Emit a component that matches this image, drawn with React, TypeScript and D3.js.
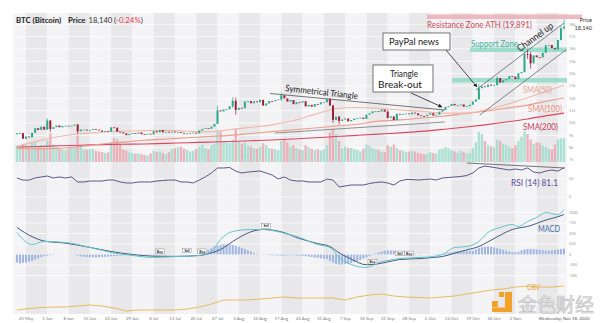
import React from "react";
import * as d3 from "d3";

// ---------- data ----------
const START = new Date(2020, 4, 22); // first candle
const AXIS_START = new Date(2020, 4, 25);
const AXIS_END = new Date(2020, 10, 18);

const prevClose = 9080;
const closes = [
  9170, 9180, 8720, 8900, 8840, 9200, 9580, 9430, 9700, 9460,
  10200, 9520, 9660, 9800, 9650, 9760, 9780, 9770, 9780, 9870,
  9320, 9470, 9470, 9390, 9430, 9520, 9460, 9390, 9290, 9340,
  9300, 9650, 9620, 9290, 9250, 9160, 9010, 9120, 9190, 9140,
  9230, 9090, 9060, 9130, 9070, 9340, 9250, 9430, 9240, 9290,
  9240, 9300, 9240, 9250, 9200, 9130, 9150, 9170, 9210, 9160,
  9390, 9520, 9580, 9540, 9700, 9930, 11030, 10940, 11100, 11110,
  11350, 11800, 11070, 11230, 11190, 11740, 11770, 11600, 11750, 11680,
  11880, 11410, 11580, 11780, 11770, 11860, 11910, 12250, 11990, 11740,
  11860, 11520, 11680, 11650, 11770, 11340, 11470, 11320, 11540, 11510,
  11680, 11680, 11970, 11410, 10250, 10510, 10170, 10280, 10370, 10130,
  10240, 10360, 10400, 10440, 10330, 10680, 10790, 10950, 10950, 10930,
  11090, 10920, 10420, 10540, 10240, 10740, 10690, 10730, 10770, 10710,
  10840, 10780, 10620, 10570, 10550, 10670, 10790, 10600, 10670, 10920,
  11060, 11300, 11380, 11550, 11430, 11430, 11500, 11320, 11360, 11480,
  11740, 11920, 12820, 12970, 12930, 13110, 13030, 13070, 13650, 13270,
  13460, 13560, 13800, 13760, 13550, 14030, 14130, 15580, 15570, 14830,
  15480, 15330, 15310, 15700, 16280, 16320, 16070, 15960, 16730, 17680,
  17800,
];

// notable wicks: [day index, high, low]
const wicks = [
  [10, 10380, 9460], [11, 10230, 9280], [20, 9940, 9110], [66, 11400, 9920], [71, 12090, 11220],
  [72, 12050, 10660], [87, 12470, 11800], [104, 11470, 10000], [106, 10560, 9900], [122, 11030, 10340],
  [152, 13160, 11900], [158, 13770, 13040], [167, 15740, 14100], [168, 15960, 15200], [169, 15760, 14400],
  [174, 16340, 15680], [179, 17850, 16690], [180, 18400, 17550],
];

const volumes = [
  24, 22, 26, 25, 23, 27, 28, 22, 24, 21,
  31, 41, 25, 22, 20, 18, 17, 19, 20, 21,
  38, 24, 18, 17, 18, 19, 16, 15, 14, 13,
  14, 28, 34, 32, 26, 18, 16, 14, 13, 12,
  12, 11, 10, 9, 12, 16, 14, 15, 13, 11,
  14, 18, 20, 21, 22, 19, 17, 15, 16, 19,
  22, 25, 20, 18, 24, 26, 45, 44, 30, 28,
  27, 32, 48, 30, 26, 28, 24, 22, 20, 19,
  22, 27, 24, 20, 19, 18, 17, 30, 33, 28,
  22, 24, 20, 18, 17, 24, 21, 19, 17, 18,
  16, 18, 24, 42, 47, 40, 30, 20, 22, 20,
  20, 18, 17, 15, 19, 25, 23, 20, 18, 17,
  15, 14, 24, 22, 25, 20, 17, 16, 14, 15,
  16, 15, 13, 12, 11, 12, 14, 13, 12, 18,
  19, 21, 20, 17, 15, 13, 16, 14, 12, 13,
  20, 28, 43, 40, 30, 24, 22, 21, 32, 30,
  26, 24, 22, 20, 24, 30, 36, 44, 40, 32,
  26, 28, 27, 24, 22, 20, 18, 25, 32, 34,
  34,
];

const macdHist = [
  -190, -210, -200, -190, -170, -150, -120, -90, -60, -40,
  -25, -15, -10, -5, -5, -5, 0, -5, -10, -15,
  -30, -45, -55, -60, -65, -70, -70, -65, -60, -55,
  -50, -45, -40, -35, -25, -20, -15, -10, -10, -5,
  -5, -10, -10, -15, -15, -20, -20, -15, -10, -10,
  -5, -5, -5, 0, 5, 5, 5, 0, 0, 0,
  10, 30, 60, 110, 150, 190, 210, 230, 240, 240,
  235, 225, 210, 190, 160, 130, 100, 70, 40, 15,
  5, -5, -10, -15, -20, -20, -25, -25, -25, -20,
  -20, -20, -25, -30, -35, -40, -50, -60, -70, -80,
  -90, -100, -110, -150, -190, -220, -240, -240, -230, -220,
  -200, -180, -160, -130, -100, -70, -40, -10, 20, 45,
  70, 90, 100, 100, 95, 85, 70, 55, 40, 25,
  15, 10, 5, 5, 0, 0, 5, 10, 10, 15,
  20, 30, 45, 60, 75, 80, 80, 85, 90, 90,
  95, 120, 150, 175, 185, 190, 185, 170, 150, 130,
  110, 90, 70, 60, 55, 70, 100, 120, 130, 135,
  130, 120, 110, 100, 95, 90, 100, 110, 120, 130,
  140,
];

// RSI, one reading every 2 days
const rsiStep = 2;
const rsi = [
  52.8, 47, 47, 52.8, 55.6, 58.3, 52.8, 55.6, 52.8, 55.6,
  41.7, 41.7, 44.4, 44.4, 44.4, 47.2, 47.2, 41.7, 38.9, 38.9,
  41.7, 41.7, 41.7, 44.4, 45.8, 47.2, 47.2, 41.7, 41.7, 38.9,
  47.2, 55.6, 66.7, 80.6, 80.6, 82, 72, 66.7, 69.4, 70.8,
  72.2, 66.7, 61, 50, 55.6, 47.2, 44.4, 44.4, 41.7, 41.7,
  41.7, 50, 47.2, 27.8, 30.6, 33.3, 33.3, 33.3, 37.5, 40.3,
  41.7, 38.9, 33.3, 44.4, 48.6, 48.6, 47.2, 48.6, 50, 47.2,
  52.8, 54.2, 55.6, 56.9, 59.7, 66.7, 80.6, 86, 83.3, 80.6,
  77.8, 75, 77.8, 75, 80.6, 69.4, 66.7, 72, 75, 72,
  81.1,
];

const macdDays = [0, 5, 9, 16, 24, 31, 38, 45, 52, 60, 64, 67, 71, 77, 81, 87, 93, 99, 103, 106,
  110, 115, 119, 124, 126, 133, 137, 140, 144, 148, 152, 155, 159, 163, 165, 168, 171, 174, 178, 180];
const macdLine = [524, 238, 310, 286, 170, 48, -24, -71, -50, -24, 71, 357, 548, 595, 595, 524, 405, 238, 167, -71,
  -238, -310, -190, -119, -95, -71, -48, 0, 167, 190, 310, 524, 643, 714, 667, 786, 881, 1000, 952, 1071];
const signalLine = [643, 425, 320, 270, 170, 71, 0, -40, -45, -24, 40, 119, 310, 540, 595, 540, 380, 260, 190, 40,
  -110, -245, -220, -145, -119, -95, -70, -48, 30, 110, 190, 300, 460, 595, 630, 667, 740, 820, 900, 952];

// OBV, one reading every 4 days
const obvStep = 4;
const obv = [2, 3.5, 4.5, 5, 5, 6, 7, 6, 4, 1, 2, 2, 2, 2, 3, 5, 8, 12, 12, 12, 13, 14, 15, 14, 14, 14, 14, 12,
  15, 17, 18, 16, 15, 14.5, 14, 15, 16, 18, 20, 22, 23, 25, 26, 25, 25, 26];

const smaDays = [0, 7, 14, 21, 28, 35, 42, 49, 56, 63, 70, 77, 84, 91, 98, 105, 112, 119, 126, 133, 140, 147, 154, 161, 168, 175, 180];
const sma50 = [8100, 8550, 8900, 9150, 9250, 9350, 9380, 9400, 9330, 9290, 9450, 9650, 9850, 10200, 10700, 11150, 11250, 11200,
  11050, 10950, 10800, 10800, 11050, 11500, 12050, 12650, 13080];
const sma100 = [7950, 7900, 7950, 8100, 8300, 8450, 8600, 8700, 8800, 8900, 9000, 9150, 9300, 9450, 9600, 9750, 9900, 10150,
  10250, 10400, 10550, 10750, 10950, 11200, 11450, 11800, 12030];
const sma200 = [8050, 8100, 8150, 8200, 8250, 8280, 8300, 8350, 8400, 8450, 8500, 8560, 8620, 8700, 8800, 8900, 9000, 9100,
  9200, 9320, 9480, 9650, 9850, 10080, 10330, 10620, 10800];

const weekLabels = ["25 May", "1 Jun", "8 Jun", "15 Jun", "22 Jun", "29 Jun", "6 Jul", "13 Jul", "20 Jul", "27 Jul",
  "3 Aug", "10 Aug", "17 Aug", "24 Aug", "31 Aug", "7 Sep", "14 Sep", "21 Sep", "28 Sep", "5 Oct", "12 Oct", "19 Oct",
  "26 Oct", "2 Nov"];
const priceTicks = [7000, 8000, 9000, 10000, 11000, 12000, 13000, 14000, 15000, 16000, 17000, 18000];
const priceTickLabels = ["7k", "8k", "9k", "10k", "11k", "12k", "13k", "14k", "15k", "16k", "17k", "18k"];
const macdTicks = [1000, 750, 500, 250, 0, -250, -500];
const macdTickLabels = ["1000", "750", "500", "250", "0", "-250", "-500"];
const rsiTicks = [50, 0];

// annotations in data space: [day index, value]
const triangleUpper = [[83.3, 12390], [140.8, 11052]];
const triangleLower = [[84.9, 9187], [140.8, 10080]];
const channelUpper = [[151, 12674], [180, 18108]];
const channelLower = [[152.3, 10646], [180.6, 15918]];
const macdSignals = [
  { day: 47, v: 60, t: "Buy" }, { day: 56, v: 80, t: "Sell" }, { day: 61, v: 60, t: "Buy" },
  { day: 82, v: 660, t: "Sell" }, { day: 117, v: -190, t: "Buy" }, { day: 126, v: 10, t: "Sell" }, { day: 129, v: 10, t: "Buy" },
];

// ---------- styling ----------
const UP = "#2aaa8a";
const DOWN = "#9e2036";
const VUP = "#9fdccb";
const VDOWN = "#eba7b1";
const FONT = "Lato, 'Open Sans', sans-serif";

export default function App() {
  const L = 13, R = 567, T = 13, B = 314;
  const x = d3.scaleTime().domain([AXIS_START, AXIS_END]).range([26, 564]);
  const dayX = (i: number) => x(d3.timeDay.offset(START, Math.floor(i))) + (i - Math.floor(i)) * 3.04;
  const yP = d3.scaleLinear().domain([7000, 18000]).range([160, 24.3]);
  const yV = d3.scaleLinear().domain([0, 50]).range([162, 127]);
  const yR = d3.scaleLinear().domain([0, 100]).range([197, 161]);
  const yM = d3.scaleLinear().domain([0, 1000]).range([254.5, 212.5]);
  const yO = d3.scaleLinear().domain([0, 30]).range([312, 282]);

  const mondays = d3.timeMonday.range(new Date(2020, 4, 18), new Date(2020, 10, 24));
  const bands = mondays.map((m, k) => {
    const x0 = Math.max(L, x(m));
    const x1 = Math.min(R, x(d3.timeDay.offset(m, 7)));
    return <rect key={k} x={x0} y={T} width={Math.max(0, x1 - x0)} height={B - T} fill={k % 2 === 1 ? "#e8e8ea" : "#f4f4f6"} />;
  });

  const lineXY = d3.line<number[]>().x((d) => d[0]).y((d) => d[1]);
  const smooth = d3.line<number[]>().x((d) => d[0]).y((d) => d[1]).curve(d3.curveMonotoneX);

  const smaPath = (vals: number[]) => smooth(vals.map((v, k) => [dayX(smaDays[k]), yP(v)]));
  const annPath = (pts: number[][]) => lineXY(pts.map((p) => [dayX(p[0]), yP(p[1])]));

  const isUp = (i: number) => closes[i] >= (i === 0 ? prevClose : closes[i - 1]);

  const wickLines = wicks.map((w, k) => (
    <line key={k} x1={dayX(w[0])} x2={dayX(w[0])} y1={yP(w[1])} y2={yP(w[2])} stroke={isUp(w[0]) ? UP : DOWN} strokeWidth={0.7} />
  ));

  const candles = closes.map((c, i) => {
    const o = i === 0 ? prevClose : closes[i - 1];
    const yt = yP(Math.max(o, c));
    const yb = yP(Math.min(o, c));
    return <rect key={i} x={dayX(i) - 1} y={yt} width={2} height={Math.max(0.8, yb - yt)} fill={isUp(i) ? UP : DOWN} />;
  });

  const volBars = volumes.map((v, i) => (
    <rect key={i} x={dayX(i) - 1.2} y={yV(v)} width={2.4} height={yV(0) - yV(v)} fill={isUp(i) ? VUP : VDOWN} opacity={0.85} />
  ));

  const histBars = macdHist.map((v, i) => {
    const y0 = yM(0), y1 = yM(v);
    return <rect key={i} x={dayX(i) - 1} y={Math.min(y0, y1)} width={2} height={Math.abs(y1 - y0)} fill="#9fb6e0" />;
  });

  const rsiPath = lineXY(rsi.map((v, k) => [dayX(k * rsiStep), yR(v)]));
  const macdPath = smooth(macdLine.map((v, k) => [dayX(macdDays[k]), yM(v)]));
  const sigPath = smooth(signalLine.map((v, k) => [dayX(macdDays[k]), yM(v)]));
  const obvPath = lineXY(obv.map((v, k) => [dayX(k * obvStep), yO(v)]));

  const labelDates = d3.timeMonday.range(AXIS_START, new Date(2020, 10, 3));

  return (
    <svg width={600} height={323} style={{ position: "absolute", left: 0, top: 0, background: "#fff" }} fontFamily={FONT}>
      <defs>
        <marker id="arr" viewBox="0 0 10 10" refX="9" refY="5" markerWidth="5" markerHeight="5" orient="auto">
          <path d="M0,0 L10,5 L0,10 z" fill="#222" />
        </marker>
        <clipPath id="plot"><rect x={L} y={T} width={R - L} height={B - T} /></clipPath>
      </defs>
      <rect x={0} y={0} width={600} height={323} fill="#fff" />
      {bands}
      {/* grid */}
      {priceTicks.map((p) => <line key={p} x1={L} x2={R} y1={yP(p)} y2={yP(p)} stroke="#fff" strokeWidth={0.8} opacity={0.9} />)}
      {macdTicks.map((m) => <line key={m} x1={L} x2={R} y1={yM(m)} y2={yM(m)} stroke="#fff" strokeWidth={0.8} opacity={0.9} />)}
      {rsiTicks.map((r) => <line key={r} x1={L} x2={R} y1={yR(r)} y2={yR(r)} stroke="#fff" strokeWidth={0.8} opacity={0.9} />)}

      {/* zones */}
      <rect x={427} y={14.5} width={155} height={4.5} fill="#eab3ba" opacity={0.9} />
      <rect x={470} y={47.5} width={R - 470} height={4.5} fill="#8fd8c6" opacity={0.85} />
      <rect x={452} y={78} width={R - 452} height={4.5} fill="#8fd8c6" opacity={0.85} />

      <g clipPath="url(#plot)">
        {volBars}
        <path d={smaPath(sma200) || ""} fill="none" stroke="#d9485f" strokeWidth={1.1} />
        <path d={smaPath(sma100) || ""} fill="none" stroke="#eb9c8a" strokeWidth={1.1} />
        <path d={smaPath(sma50) || ""} fill="none" stroke="#f2b7a8" strokeWidth={1.1} />
        <path d={annPath(triangleUpper) || ""} fill="none" stroke="#555" strokeWidth={0.8} />
        <path d={annPath(triangleLower) || ""} fill="none" stroke="#666" strokeWidth={0.7} />
        <path d={annPath(channelUpper) || ""} fill="none" stroke="#666" strokeWidth={0.8} />
        <path d={annPath(channelLower) || ""} fill="none" stroke="#666" strokeWidth={0.8} />
        {wickLines}
        {candles}
        <path d={rsiPath || ""} fill="none" stroke="#4f4283" strokeWidth={0.9} />
        <line x1={467} y1={163} x2={565} y2={168} stroke="#555" strokeWidth={0.8} />
        {histBars}
        <path d={sigPath || ""} fill="none" stroke="#45597c" strokeWidth={1} />
        <path d={macdPath || ""} fill="none" stroke="#63c3cc" strokeWidth={1} />
        <path d={obvPath || ""} fill="none" stroke="#e6b54c" strokeWidth={0.9} />
      </g>

      {/* MACD buy/sell flags */}
      {macdSignals.map((s, k) => (
        <g key={k}>
          <rect x={dayX(s.day) - 4.5} y={yM(s.v) - 3} width={9} height={4.5} fill="#fff" stroke="#444" strokeWidth={0.3} />
          <text x={dayX(s.day)} y={yM(s.v) + 0.6} fontSize={3.4} fontWeight="bold" textAnchor="middle" fill="#222">{s.t}</text>
        </g>
      ))}

      {/* watermark */}
      <g>
        <rect x={492} y={301} width={6} height={6} fill="#f2a229" />
        <rect x={499} y={292} width={5} height={5} fill="#f2a229" />
        <rect x={505} y={292} width={7} height={20} fill="#f2a229" />
        <rect x={492} y={307.5} width={20} height={4.5} fill="#f2a229" />
        <text x={518} y={312} fontSize={19} fontFamily="'Noto Sans CJK SC', sans-serif" fill="#e6e6e6" stroke="#bdbdbd" strokeWidth={0.6}>金色财经</text>
      </g>
      <text x={527} y={290} fontSize={7} fill="#e8a43c" textLength={13} lengthAdjust="spacingAndGlyphs">OBV</text>

      {/* axis labels */}
      {priceTicks.map((p, k) => (
        <text key={p} x={569} y={yP(p) + 1.3} fontSize={3.8} fill="#999">{priceTickLabels[k]}</text>
      ))}
      {macdTicks.map((m, k) => (
        <text key={m} x={569} y={yM(m) + 1.3} fontSize={3.8} fill="#999">{macdTickLabels[k]}</text>
      ))}
      {rsiTicks.map((r) => (
        <text key={r} x={569} y={yR(r) + 1.3} fontSize={3.8} fill="#999">{r}</text>
      ))}
      {labelDates.map((d, k) => (
        <text key={k} x={x(d)} y={320} fontSize={4.4} fill="#777" textAnchor="middle">{weekLabels[k]}</text>
      ))}
      <text x={x(AXIS_END)} y={320} fontSize={4.4} fill="#555" textAnchor="middle">Wednesday, Nov 18, 2020</text>

      {/* title */}
      <text y={23} fontSize={7.8} fill="#333">
        <tspan x={16} fontWeight="bold" fill="#222">BTC (Bitcoin)</tspan>
        <tspan x={68} fontWeight="bold" fill="#222">Price</tspan>
        <tspan x={88.5} fontSize={7.6}>18,140</tspan>
        <tspan x={114}>(</tspan><tspan fill="#e0404a">-0.24%</tspan><tspan>)</tspan>
      </text>

      {/* annotations */}
      <text x={427} y={27.5} fontSize={9} fill="#c94b5a" textLength={105} lengthAdjust="spacingAndGlyphs">Resistance Zone ATH (19,891)</text>
      <text x={592} y={21.5} fontSize={5.6} fill="#333" textAnchor="end">Price</text>
      <text x={592} y={30} fontSize={5.6} fill="#333" textAnchor="end">18,140</text>
      <text x={471} y={47} fontSize={9} fill="#36b39b" textLength={47} lengthAdjust="spacingAndGlyphs">Support Zone</text>
      <text x={0} y={0} fontSize={9.5} fill="#222" textLength={42} lengthAdjust="spacingAndGlyphs"
        transform="translate(520,52) rotate(-36)">Channel up</text>

      <rect x={383} y={33} width={67} height={17} fill="#fff" stroke="#555" strokeWidth={0.8} />
      <text x={414} y={45} fontSize={9} fill="#222" textAnchor="middle" textLength={50} lengthAdjust="spacingAndGlyphs">PayPal news</text>
      <line x1={446} y1={50} x2={477} y2={87} stroke="#222" strokeWidth={0.8} markerEnd="url(#arr)" />

      <rect x={373} y={65} width={60} height={27} fill="#fff" stroke="#555" strokeWidth={0.8} />
      <text x={404} y={77} fontSize={9} fill="#222" textAnchor="middle" textLength={28} lengthAdjust="spacingAndGlyphs">Triangle</text>
      <text x={400} y={87.5} fontSize={9} fill="#222" textAnchor="middle" textLength={44} lengthAdjust="spacingAndGlyphs">Break-out</text>
      <line x1={411} y1={93} x2={442} y2={107} stroke="#222" strokeWidth={0.8} markerEnd="url(#arr)" />

      <text x={0} y={0} fontSize={9} fill="#222" textLength={73} lengthAdjust="spacingAndGlyphs"
        transform="translate(285,91) rotate(6.5)">Symmetrical Triangle</text>

      <text x={523} y={93} fontSize={9} fill="#eba494" textLength={29} lengthAdjust="spacingAndGlyphs">SMA(50)</text>
      <text x={528} y={111.5} fontSize={9} fill="#e8937f" textLength={34} lengthAdjust="spacingAndGlyphs">SMA(100)</text>
      <text x={523} y={130} fontSize={9} fill="#c8405a" textLength={35} lengthAdjust="spacingAndGlyphs">SMA(200)</text>
      <text x={511} y={186} fontSize={9} fill="#5b4d9a" textLength={47} lengthAdjust="spacingAndGlyphs">RSI (14)  81.1</text>
      <text x={538} y={232} fontSize={9.5} fill="#4a6fa5" textLength={22} lengthAdjust="spacingAndGlyphs">MACD</text>
    </svg>
  );
}
